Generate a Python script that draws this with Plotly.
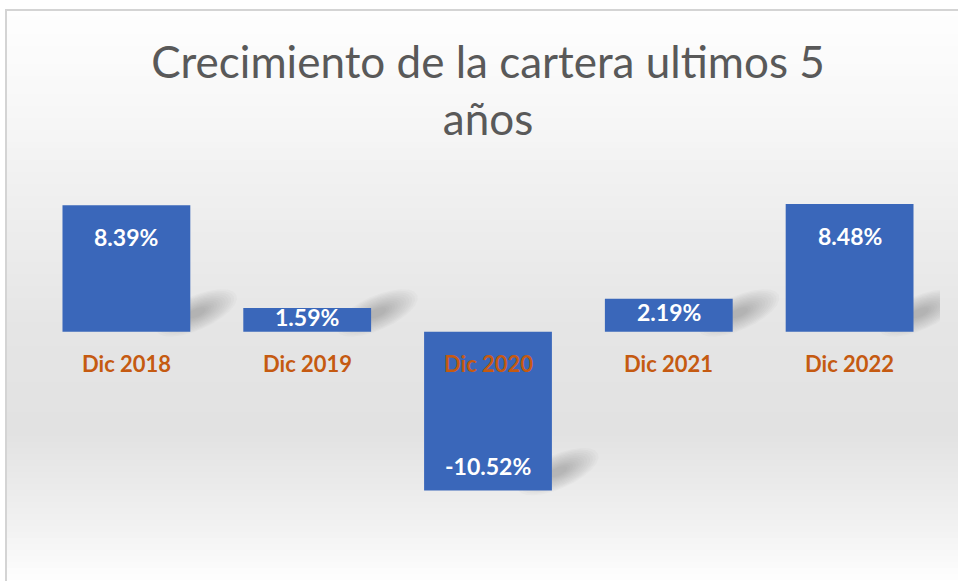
import math
import plotly.graph_objects as go

# ---- data ----
categories = ["Dic 2018", "Dic 2019", "Dic 2020", "Dic 2021", "Dic 2022"]
growth_pct = [8.39, 1.59, -10.52, 2.19, 8.48]
value_labels = [f"{v:.2f}%" for v in growth_pct]
title_text = "Crecimiento de la cartera ultimos 5<br>años"

W, H = 958, 581
ML, MR, MT, MB = 36, 18, 181, 53
Y_RANGE = [-13, 10]
BARGAP = 0.293
plot_h = H - MT - MB
px_per_unit = plot_h / (Y_RANGE[1] - Y_RANGE[0])

BAR_COLOR = "#3a67ba"
CAT_COLOR = "#c55a11"

fig = go.Figure()
fig.add_trace(go.Bar(
    x=list(range(len(categories))),
    y=growth_pct,
    marker=dict(color=BAR_COLOR, line=dict(width=0)),
    hoverinfo="skip",
))

shapes = []

# background gradient (horizontal bands) in paper coordinates
stops = [(0, 255), (10, 254), (100, 248), (190, 240), (330, 229), (430, 226), (520, 240), (581, 254)]
def gray_at(py):
    for (a, ga), (b, gb) in zip(stops[:-1], stops[1:]):
        if a <= py <= b:
            t = (py - a) / (b - a) if b > a else 0
            return round(ga + (gb - ga) * t)
    return 255

def pix_to_paper_y(py):
    return (H - MB - py) / plot_h

def pix_to_paper_x(px):
    return (px - ML) / (W - ML - MR)

step = 6
for py in range(10, H, step):
    g = gray_at(py + step / 2)
    shapes.append(dict(
        type="rect", xref="paper", yref="paper", layer="below",
        x0=pix_to_paper_x(6), x1=pix_to_paper_x(W + 2),
        y0=pix_to_paper_y(py), y1=pix_to_paper_y(min(py + step, H) + 0.5),
        fillcolor=f"rgb({g},{g},{g})", line=dict(width=0),
    ))
# chart border
shapes.append(dict(
    type="rect", xref="paper", yref="paper", layer="below",
    x0=pix_to_paper_x(6), x1=pix_to_paper_x(W + 10),
    y0=pix_to_paper_y(H + 10), y1=pix_to_paper_y(10),
    fillcolor="rgba(0,0,0,0)", line=dict(color="#d4d4d4", width=2),
))

# soft shadows at the lower-right corner of each bar (stacked translucent ellipses)
half_w = (1 - BARGAP) / 2
ang = math.radians(24)
cx, cy = 6, 19
N_LAYERS = 12
for i, v in enumerate(growth_pct):
    base = 0 if v >= 0 else v
    for k in range(N_LAYERS):
        s = 1.0 - k * 0.07
        a, b = 44 * s, 17 * s
        pts = []
        for t in range(0, 360, 15):
            tt = math.radians(t)
            ex, ey = a * math.cos(tt), b * math.sin(tt)
            x = cx + ex * math.cos(ang) - ey * math.sin(ang)
            y = cy + ex * math.sin(ang) + ey * math.cos(ang)
            pts.append((x, y))
        path = "M " + " L ".join(f"{x:.1f},{y:.1f}" for x, y in pts) + " Z"
        shapes.append(dict(
            type="path", xref="x", yref="y", layer="below",
            xsizemode="pixel", xanchor=i + half_w,
            ysizemode="pixel", yanchor=base,
            path=path, fillcolor="rgb(70,70,70)", opacity=0.028, line=dict(width=0),
        ))

annotations = []
# value labels (inside end)
for i, (v, lab) in enumerate(zip(growth_pct, value_labels)):
    h = abs(v) * px_per_unit
    if v >= 0:
        ys = -min(0.4 * h, 32)
    else:
        ys = min(0.4 * h, 25)
    annotations.append(dict(
        x=i, y=v, xref="x", yref="y", text=lab, showarrow=False,
        yshift=ys, xanchor="center", yanchor="middle",
        font=dict(family="Lato", size=23, color="white", weight="bold"),
    ))
# category labels just below zero line
for i, c in enumerate(categories):
    annotations.append(dict(
        x=i, y=0, xref="x", yref="y", text=c, showarrow=False,
        yshift=-32, xanchor="center", yanchor="middle",
        font=dict(family="Lato", size=22, color=CAT_COLOR, weight="bold"),
    ))

fig.update_layout(
    width=W, height=H,
    margin=dict(l=ML, r=MR, t=MT, b=MB),
    paper_bgcolor="white", plot_bgcolor="rgba(0,0,0,0)",
    bargap=BARGAP, showlegend=False,
    title=dict(
        text=title_text, x=0.5, xref="paper", xanchor="center",
        y=1 - 78 / H, yref="container", yanchor="top",
        font=dict(family="Lato", size=44, color="#595959", weight="normal"),
    ),
    xaxis=dict(range=[-0.5, len(categories) - 0.5], visible=False, fixedrange=True),
    yaxis=dict(range=Y_RANGE, visible=False, fixedrange=True, zeroline=False),
    shapes=shapes, annotations=annotations,
)

fig.write_html(
    "out.html",
    config={"displayModeBar": False},
    post_script="document.body.style.margin='0';document.body.style.overflow='hidden';",
)
